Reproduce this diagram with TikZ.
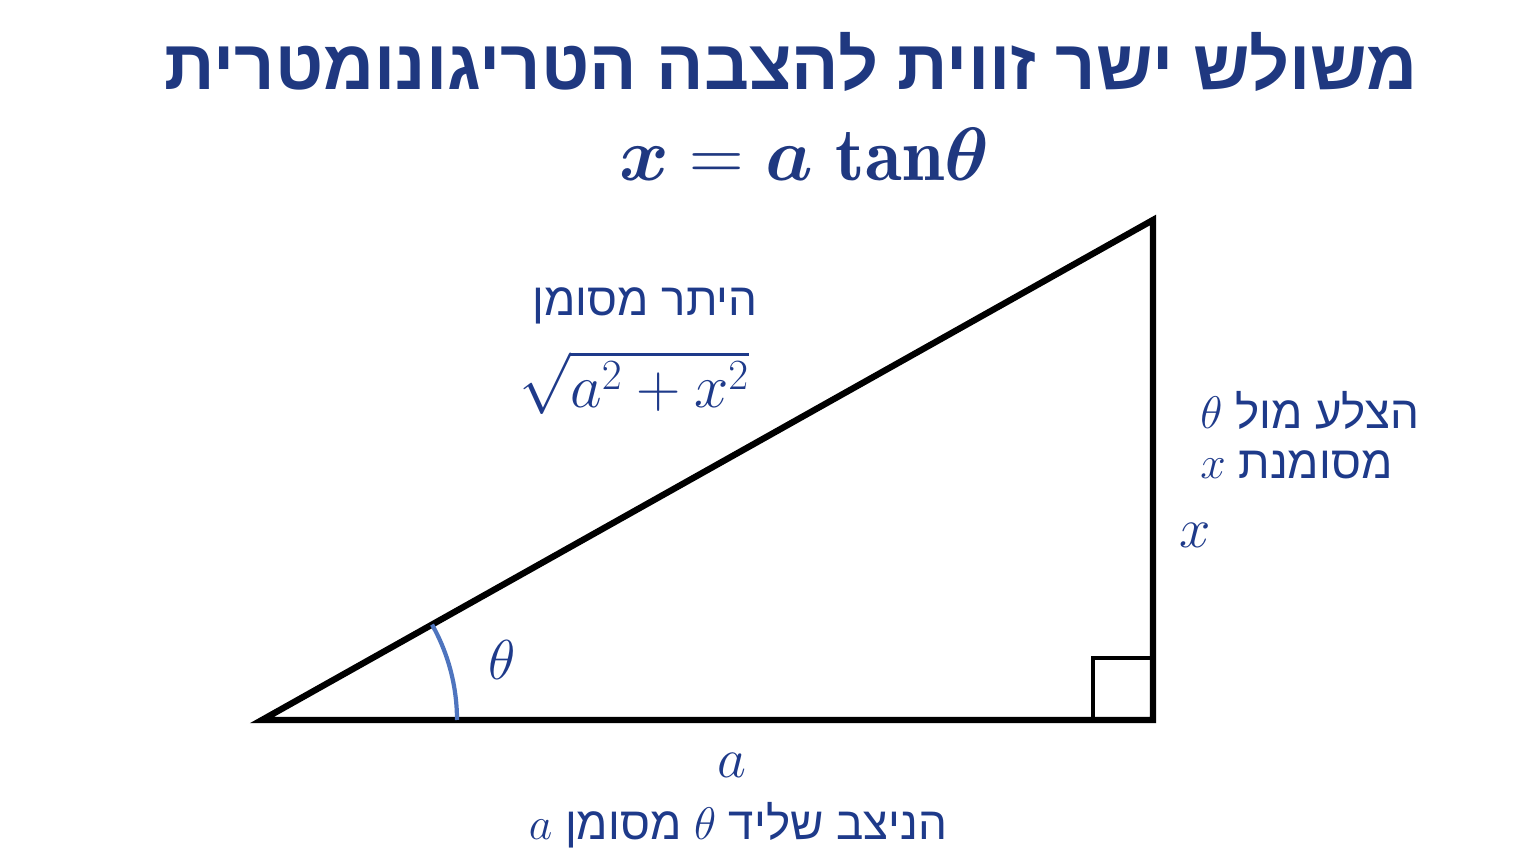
\documentclass[tikz,border=0pt]{standalone}
\usepackage{fix-cm}
\usepackage{amsmath}
\usepackage{bm}
\usepackage{fontspec}
\newfontfamily\hebfont[Script=Hebrew]{Liberation Sans}
\TeXXeTstate=1
\usetikzlibrary{positioning,calc}

\definecolor{titleblue}{RGB}{31,56,128}
\definecolor{labelblue}{RGB}{30,58,138}
\definecolor{arcblue}{RGB}{78,116,190}

\tikzset{
  side/.style={line width=3.6pt,line join=miter,draw=black},
  heb/.style={text=labelblue,inner sep=0pt,font=\fontsize{26}{30}\selectfont\hebfont},
  sym/.style={text=labelblue,inner sep=0pt,font=\fontsize{32}{36}\selectfont}
}

\begin{document}
\begin{tikzpicture}[x=0.02cm,y=-0.02cm]

    \useasboundingbox (0,0) rectangle (1536,864);

    % titles
    \node[text=titleblue,font=\fontsize{40}{46}\selectfont\hebfont\bfseries] (title) at (791,62)
        {\beginR משולש ישר זווית להצבה הטריגונומטרית\endR};
    \node[text=titleblue,font=\fontsize{43}{48}\selectfont] (formula) at (804,155)
        {$\bm{x}=\bm{a}\ \mathbf{tan}\bm{\theta}$};

    % triangle
    \coordinate (A) at (262,720);
    \coordinate (B) at (1153,720);
    \coordinate (C) at (1153,220);

    \draw[side] (A) -- (B) -- (C) -- cycle;
    \draw[side,line width=2.8pt] ($(B)+(-60,0)$) -- ++(0,-62) -- ++(60,0);
    \draw[arcblue,line width=2.4pt] ($(A)+(195,0)$) arc[start angle=0,end angle=-29.3,radius=195];

    % labels
    \node[sym] (theta) at (502,660) {$\theta$};
    \node[sym] (xlab)  at (1195,535) {$x$};
    \node[sym] (alab)  at (732,765) {$a$};

    \node[heb,anchor=east] (hyp) at (758,306) {\beginR היתר מסומן\endR};
    \node[sym,font=\fontsize{35}{40}\selectfont] (root) at (634,383) {$\sqrt{a^2+x^2}$};

    \node[heb,anchor=west] (opp1) at (1200,410) {\beginR הצלע מול $\theta$\endR};
    \node[heb,anchor=west] (opp2) at (1200,465) {\beginR מסומנת $x$\endR};

    \node[heb] (adj) at (738,825) {\beginR הניצב שליד $\theta$ מסומן $a$\endR};

\end{tikzpicture}
\end{document}
